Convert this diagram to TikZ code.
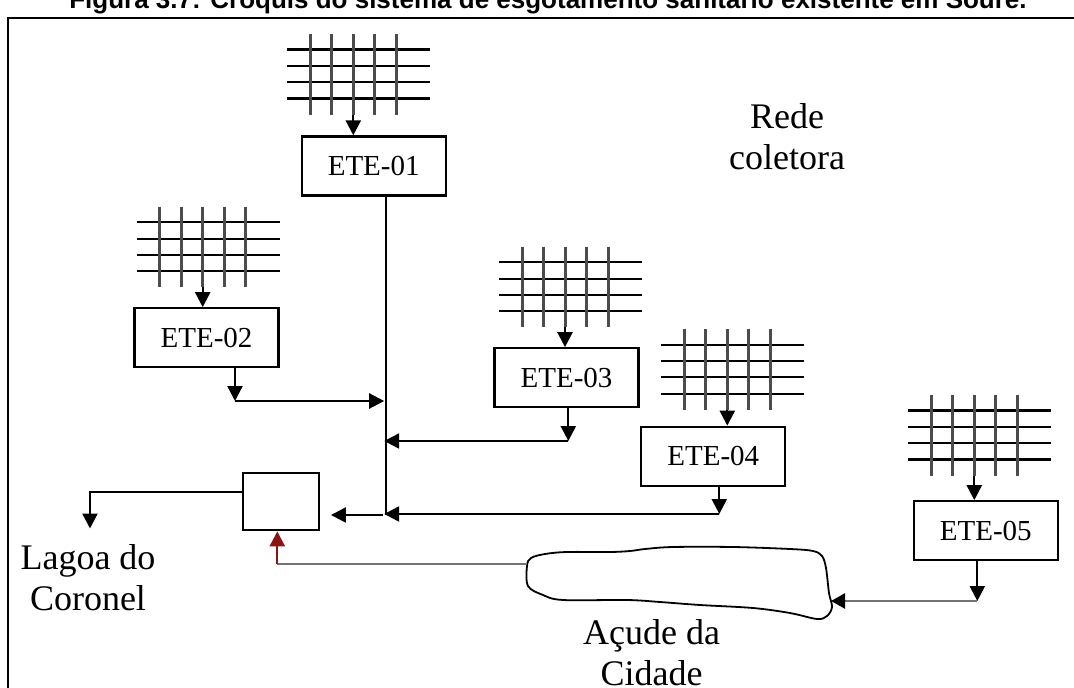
\documentclass[tikz,border=0pt]{standalone}
\usepackage{fontspec}
\setmainfont{Liberation Serif}
\newfontfamily\titlefont{Liberation Sans}
\usetikzlibrary{arrows.meta}
\definecolor{darkred}{RGB}{140,20,20}
\tikzset{
  conn/.style={line width=2.3pt, black},
  arr/.style={conn, -{Triangle[width=15pt,length=15pt]}},
  grayline/.style={line width=2.6pt, black!55},
  grayarr/.style={grayline, -{Triangle[width=15pt,length=14pt,color=black,fill=black]}},
  redarr/.style={line width=2.3pt, darkred, -{Triangle[width=15pt,length=15pt]}},
  gridh/.style={line width=2.3pt, black},
  gridv/.style={line width=3pt, black!70},
  etebox/.style={draw, line width=2.3pt, inner sep=0pt, minimum width=144pt, minimum height=59pt,
    font=\fontsize{29}{29}\selectfont},
  lbl/.style={align=center, inner sep=0pt, font=\fontsize{36}{41}\selectfont},
  sewgrid/.pic={
    \foreach \h in {15.5,32,48,64.5} \draw[gridh] (-66,\h) -- (77,\h);
    \foreach \v in {-43,-21.5,0,21.5,43} \draw[gridv] (\v,0) -- (\v,80.5);
    \coordinate (-bot) at (0,80.5);
  }
}
\begin{document}
\begin{tikzpicture}[x=1pt,y=-1pt]
\useasboundingbox (0,0) rectangle (1074,688);
\clip (0,0) rectangle (1074,688);
\fill[white] (0,0) rectangle (1074,688);

% title (cut by the page edge)
\node[anchor=base, inner sep=0pt, font=\titlefont\bfseries\fontsize{26}{26}\selectfont] (title) at (548,9)
  {Figura 3.7: Croquis do sistema de esgotamento sanitário existente em Soure.};

% frame
\draw[line width=2.8pt] (8,1000) -- (8,18) -- (1100,18);

% grids
\pic (g1) at (353.3,34) {sewgrid};
\pic (g2) at (202.7,206.7) {sewgrid};
\pic (g3) at (565,246.7) {sewgrid};
\pic (g4) at (727.3,329.3) {sewgrid};
\pic (g5) at (974.3,395) {sewgrid};

% stations
\node[etebox] (ete01) at (373.7,166) {ETE-01};
\node[etebox] (ete02) at (206.5,337.8) {ETE-02};
\node[etebox] (ete03) at (566.5,377.8) {ETE-03};
\node[etebox] (ete04) at (713.3,456.3) {ETE-04};
\node[etebox] (ete05) at (985.8,530.8) {ETE-05};
\node[draw, line width=2.3pt, minimum width=76pt, minimum height=57pt, inner sep=0pt] (ubox) at (280.8,501.7) {};

% grid -> station
\draw[arr] (g1-bot) -- (g1-bot |- ete01.north);
\draw[arr] (g2-bot) -- (g2-bot |- ete02.north);
\draw[arr] (g3-bot) -- (g3-bot |- ete03.north);
\draw[arr] (g4-bot) -- (g4-bot |- ete04.north);
\draw[arr] (g5-bot) -- (g5-bot |- ete05.north);

% trunk
\coordinate (trunkend) at (385.7,515);
\draw[conn] (ete01.south -| trunkend) -- (trunkend);

% ETE-02
\coordinate (j2) at (235,401);
\draw[arr] (ete02.south -| j2) -- (j2);
\draw[arr, shorten >=1.5pt] (j2) -- (j2 -| trunkend);
% ETE-03
\coordinate (j3) at (568.3,441);
\draw[arr] (ete03.south -| j3) -- (j3);
\draw[arr, shorten >=-1.5pt] (j3) -- (j3 -| trunkend);
% ETE-04
\coordinate (j4) at (719.3,514);
\draw[arr] (ete04.south -| j4) -- (j4);
\draw[arr, shorten >=-1.5pt] (j4) -- (j4 -| trunkend);
% trunk -> box
\draw[arr, shorten <=3pt, shorten >=11pt] (trunkend) -- (trunkend -| ubox.east);

% box -> Lagoa
\coordinate (lagoaout) at (242.7,492.3);
\coordinate (lagoatip) at (90,528.5);
\draw[arr] (ubox.west |- lagoaout) -| (lagoatip);
\node[lbl, anchor=north] (lagoa) at (88,544) {Lagoa do\\Coronel};

% lake
\coordinate (lakeW) at (527,564);
\coordinate (lakeE) at (831,601);
\draw[line width=1.8pt, fill=white] plot[smooth cycle, tension=0.55] coordinates {
  (527,566) (531,558) (545,554) (567,552) (610,552) (630,551) (645,549) (673,547)
  (733,547) (790,549) (813,551) (822,556) (826,568) (829,593) (832,607) (827,616)
  (817,619) (790,613) (753,608) (700,605) (660,602) (627,600) (563,600) (543,595) (528,586)};
\node[lbl, anchor=north] (acude) at (651.7,619) {Açude da\\Cidade};

% lake -> box (red)
\coordinate (redstart) at (277.3,564);
\draw[grayline] (redstart) -- (lakeW);
\draw[redarr] (redstart) -- (redstart |- ubox.south);

% ETE-05 -> lake
\coordinate (j5) at (977.3,601);
\draw[arr] (ete05.south -| j5) -- (j5);
\draw[grayarr] (j5) -- (lakeE);

% label
\node[lbl, anchor=north] (rede) at (787,103) {Rede\\coletora};
\end{tikzpicture}
\end{document}
